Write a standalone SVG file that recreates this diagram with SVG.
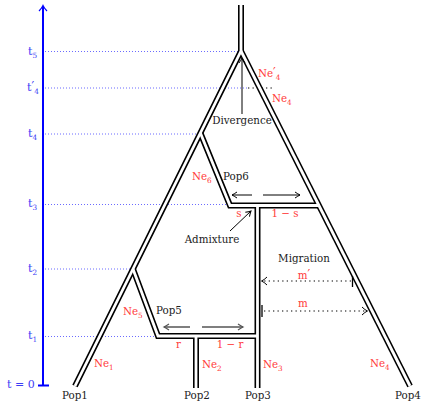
<svg xmlns="http://www.w3.org/2000/svg" width="423" height="402" viewBox="0 0 423 402">
<style>
text{font-family:"DejaVu Serif","Liberation Serif",serif;font-size:10.3px}
.bl{fill:#3c3cf5;font-size:11px}
.rd{fill:#ff3b3b}
.bk{fill:#222}
.sub{font-size:7.3px}
.pr{font-family:"DejaVu Sans",sans-serif;font-size:12px}
.tb{fill:none;stroke:#000;stroke-width:6;stroke-linejoin:miter}
.tw{fill:none;stroke:#fff;stroke-width:2.8;stroke-linejoin:miter}
.gd{stroke:#6b6bff;stroke-width:1;stroke-dasharray:1 2;fill:none}
.md{stroke:#000;stroke-width:1.2;stroke-dasharray:1.3 3.2;fill:none}
</style>
<defs>
<marker id="ab" markerWidth="8" markerHeight="8" refX="6" refY="4" orient="auto" markerUnits="userSpaceOnUse"><path d="M1,1 Q4,3 6,4 Q4,5 1,7" fill="none" stroke="#000" stroke-width="1"/></marker>
<marker id="ag" markerWidth="8" markerHeight="8" refX="6" refY="4" orient="auto" markerUnits="userSpaceOnUse"><path d="M1,1 Q4,3 6,4 Q4,5 1,7" fill="none" stroke="#555" stroke-width="1.3"/></marker>
</defs>
<g id="axis">
<line x1="43" y1="6" x2="43" y2="386" stroke="#0000ff" stroke-width="2"/>
<path d="M39,11 Q42,8 43,5.5 Q44,8 47,11" fill="none" stroke="#0000ff" stroke-width="1.2"/>
<line x1="38" y1="385.5" x2="49" y2="385.5" stroke="#0000ff" stroke-width="2"/>
<text class="bl" x="28" y="55">t<tspan class="sub" dy="2.5">5</tspan></text>
<text class="bl" x="27" y="91">t<tspan class="pr" dy="-1">′</tspan><tspan class="sub" dy="3.5">4</tspan></text>
<text class="bl" x="28" y="137">t<tspan class="sub" dy="2.5">4</tspan></text>
<text class="bl" x="28" y="207">t<tspan class="sub" dy="2.5">3</tspan></text>
<text class="bl" x="28" y="272">t<tspan class="sub" dy="2.5">2</tspan></text>
<text class="bl" x="28" y="339">t<tspan class="sub" dy="2.5">1</tspan></text>
<text class="bl" x="7" y="388">t = 0</text>
</g>
<g id="gridlines">
<line class="gd" x1="45" y1="51.5" x2="240" y2="51.5"/>
<line class="gd" x1="45" y1="88" x2="247" y2="88"/>
<line class="gd" x1="45" y1="134" x2="202" y2="134"/>
<line class="gd" x1="45" y1="204.5" x2="229" y2="204.5"/>
<line class="gd" x1="45" y1="269" x2="133" y2="269"/>
<line class="gd" x1="45" y1="336.5" x2="157" y2="336.5"/>
<line class="md" x1="248" y1="88" x2="274" y2="88"/>
</g>
<g id="tree">
<path class="tb" d="M241,5 L241,51 L75,386"/>
<path class="tb" d="M241,51 L410,386"/>
<path class="tb" d="M200.4,133 L230,205.5 L318.7,205.5"/>
<path class="tb" d="M133,269 L158,336 L258,336"/>
<path class="tb" d="M257.5,205.5 L257.5,388"/>
<path class="tb" d="M196,336 L196,388"/>
<path class="tw" d="M241,5 L241,51 L75,386"/>
<path class="tw" d="M241,51 L410,386"/>
<path class="tw" d="M200.4,133 L230,205.5 L318.7,205.5"/>
<path class="tw" d="M133,269 L158,336 L258,336"/>
<path class="tw" d="M257.5,205.5 L257.5,388"/>
<path class="tw" d="M196,336 L196,388"/>
</g>
<g id="pop1"><text class="bk" x="75" y="399" text-anchor="middle">Pop1</text><text class="rd" x="94" y="367">Ne<tspan class="sub" dy="2.5">1</tspan></text></g>
<g id="pop2"><text class="bk" x="197" y="399" text-anchor="middle">Pop2</text><text class="rd" x="202" y="368">Ne<tspan class="sub" dy="2.5">2</tspan></text></g>
<g id="pop3"><text class="bk" x="258" y="399" text-anchor="middle">Pop3</text><text class="rd" x="263" y="368">Ne<tspan class="sub" dy="2.5">3</tspan></text></g>
<g id="pop4"><text class="bk" x="408" y="399" text-anchor="middle">Pop4</text><text class="rd" x="370" y="367">Ne<tspan class="sub" dy="2.5">4</tspan></text></g>
<g id="pop5"><text class="bk" x="156" y="314">Pop5</text><text class="rd" x="123" y="315">Ne<tspan class="sub" dy="2.5">5</tspan></text>
<text class="rd" x="178.5" y="348" text-anchor="middle">r</text><text class="rd" x="230" y="348" text-anchor="middle">1 − r</text></g>
<g id="pop6"><text class="bk" x="223" y="180">Pop6</text><text class="rd" x="192" y="180">Ne<tspan class="sub" dy="2.5">6</tspan></text>
<text class="rd" x="239" y="217" text-anchor="middle">s</text><text class="rd" x="285" y="217" text-anchor="middle">1 − s</text></g>
<g id="ancestral"><text class="rd" x="258" y="77">Ne<tspan class="pr" dy="-1">′</tspan><tspan class="sub" dy="3.5">4</tspan></text>
<text class="rd" x="272" y="102">Ne<tspan class="sub" dy="2.5">4</tspan></text>
<text class="bk" x="242" y="124" text-anchor="middle">Divergence</text>
<text class="bk" x="212" y="243" text-anchor="middle">Admixture</text>
<text class="bk" x="304" y="262" text-anchor="middle">Migration</text>
<text class="rd" x="304" y="279" text-anchor="middle">m<tspan class="pr" dy="-1">′</tspan></text>
<text class="rd" x="303" y="307" text-anchor="middle">m</text></g>
<g id="connectors">
<line x1="242" y1="114" x2="242" y2="58" stroke="#000" stroke-width="1" marker-end="url(#ab)"/>
<line x1="230" y1="231" x2="251" y2="211" stroke="#000" stroke-width="1" marker-end="url(#ab)"/>
<line x1="252" y1="195" x2="232" y2="195" stroke="#000" stroke-width="1" marker-end="url(#ab)"/>
<line x1="263" y1="195" x2="300" y2="195" stroke="#000" stroke-width="1" marker-end="url(#ab)"/>
<line x1="190" y1="327" x2="164" y2="327" stroke="#555" stroke-width="1.5" marker-end="url(#ag)"/>
<line x1="202" y1="327" x2="243" y2="327" stroke="#555" stroke-width="1.5" marker-end="url(#ag)"/>
<line class="md" x1="351" y1="281" x2="262" y2="281"/>
<path d="M267,277 Q264,280 261.5,281 Q264,282 267,285" fill="none" stroke="#000" stroke-width="1"/>
<line x1="352.5" y1="276" x2="352.5" y2="287" stroke="#000" stroke-width="1.3"/>
<line class="md" x1="264" y1="311" x2="366" y2="311"/>
<path d="M362,307 Q365,310 367.5,311 Q365,312 362,315" fill="none" stroke="#000" stroke-width="1"/>
<line x1="262" y1="305" x2="262" y2="317" stroke="#000" stroke-width="1.3"/>
</g>
</svg>
